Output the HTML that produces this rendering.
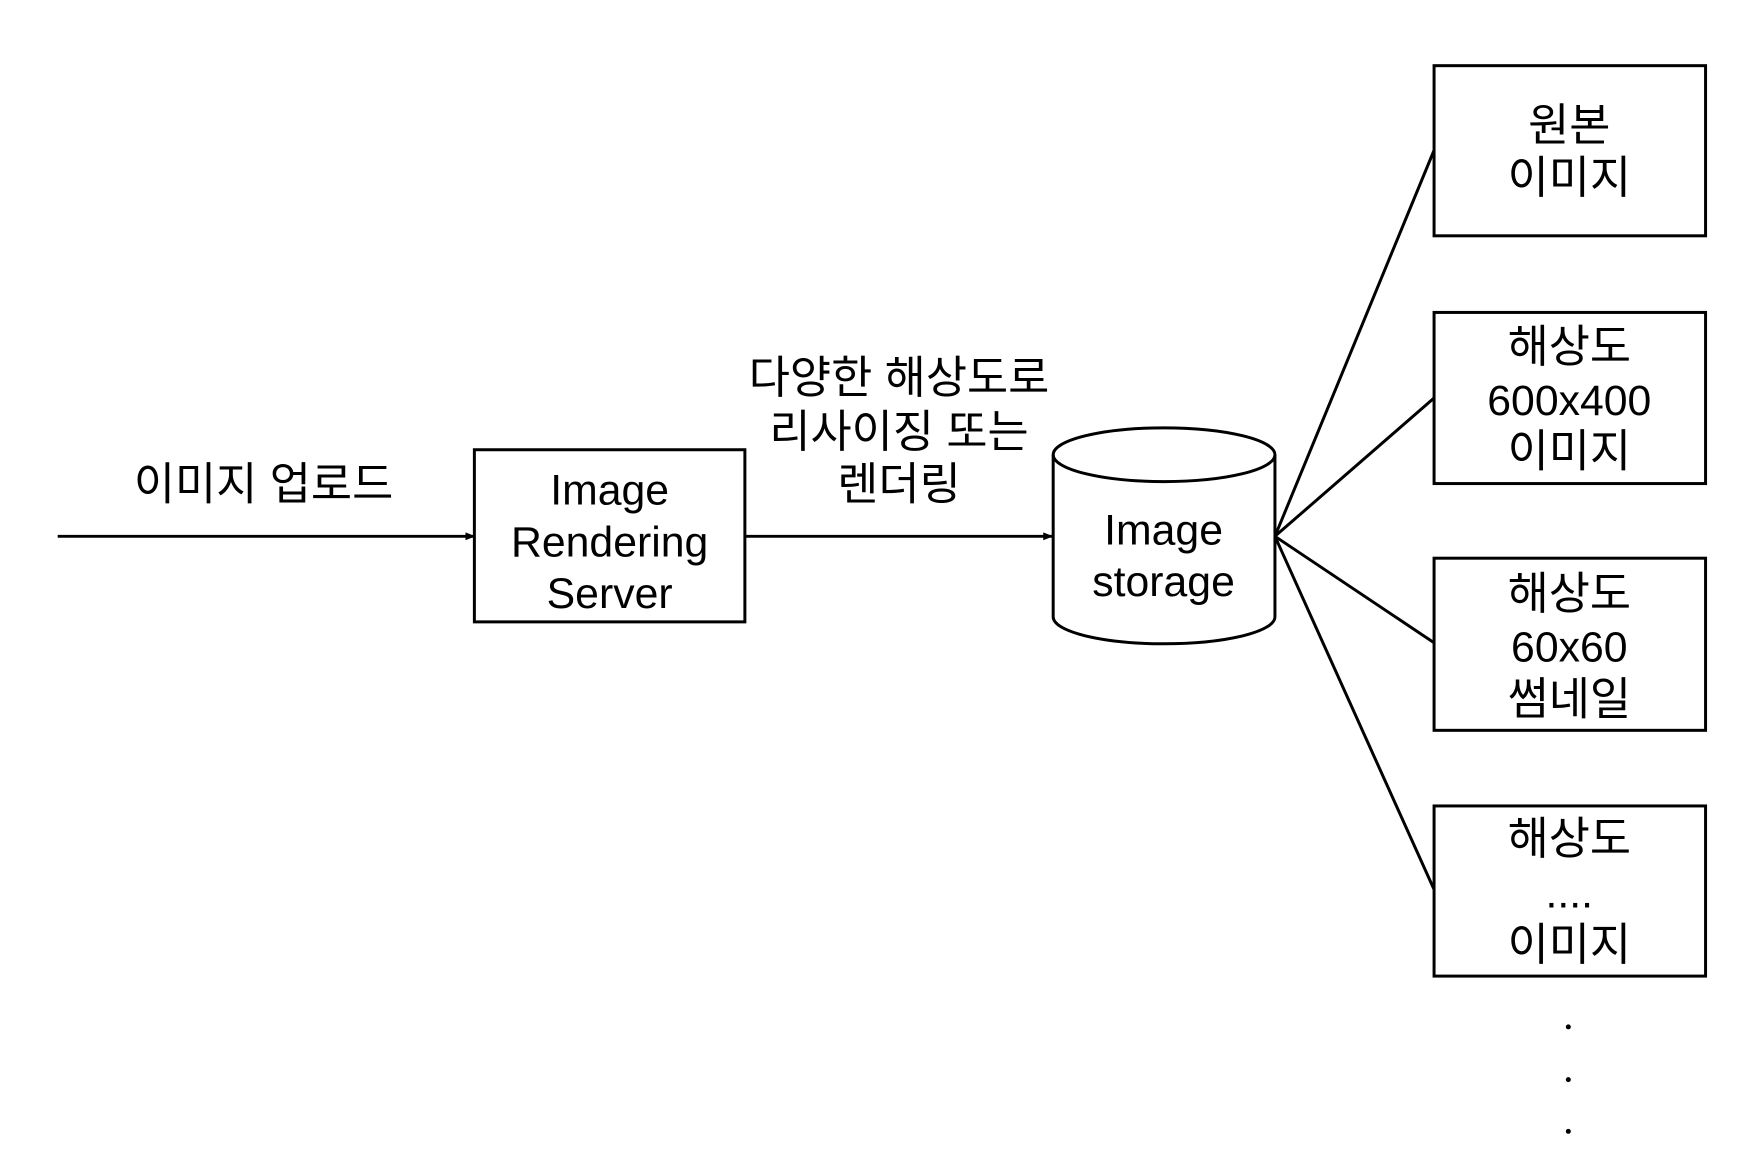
<!DOCTYPE html>
<html><head><meta charset="utf-8"><style>
html,body{margin:0;padding:0;background:#fff;}
svg{display:block}
text{font-family:"Liberation Sans","Noto Sans CJK KR",sans-serif;font-size:43px;fill:#000;text-anchor:middle;dominant-baseline:central}
text.k{font-size:45px}
</style></head><body>
<svg width="1746" height="1174" viewBox="0 0 1746 1174" xmlns="http://www.w3.org/2000/svg">
<defs><marker id="a" markerWidth="10" markerHeight="10" refX="9" refY="5" orient="auto" markerUnits="userSpaceOnUse"><path d="M0,1 L10,5 L0,9 z" fill="#000"/></marker></defs>
<g transform="scale(0.9945 0.995)">
<g stroke="#000" stroke-width="3" fill="none">
<line x1="58" y1="539" x2="477" y2="539" marker-end="url(#a)"/>
<rect x="477" y="452" width="272" height="173"/>
<line x1="749" y1="539" x2="1058" y2="539" marker-end="url(#a)"/>
<path d="M1059,457 L1059,620 A111.5,27 0 0 0 1282,620 L1282,457"/>
<ellipse cx="1170.5" cy="457" rx="111.5" ry="27"/>
<rect x="1442" y="66" width="273" height="171"/>
<rect x="1442" y="314" width="273" height="172"/>
<rect x="1442" y="561" width="273" height="173"/>
<rect x="1442" y="810" width="273" height="171"/>
<line x1="1282" y1="539" x2="1442" y2="151"/>
<line x1="1282" y1="539" x2="1442" y2="400"/>
<line x1="1282" y1="539" x2="1442" y2="646"/>
<line x1="1282" y1="539" x2="1442" y2="894"/>
</g>
<g transform="translate(0 3)">
<text class="k" x="265" y="484">이미지 업로드</text>
<text x="613" y="490">Image</text>
<text x="613" y="542">Rendering</text>
<text x="613" y="594">Server</text>
<text class="k" x="904" y="377">다양한 해상도로</text>
<text class="k" x="904" y="431">리사이징 또는</text>
<text class="k" x="904" y="484">렌더링</text>
<text x="1170" y="530">Image</text>
<text x="1170" y="582">storage</text>
<text class="k" x="1578" y="123">원본</text>
<text class="k" x="1578" y="176">이미지</text>
<text class="k" x="1578" y="346">해상도</text>
<text x="1578" y="400">600x400</text>
<text class="k" x="1578" y="451">이미지</text>
<text class="k" x="1578" y="594">해상도</text>
<text x="1578" y="648">60x60</text>
<text class="k" x="1578" y="700">썸네일</text>
<text class="k" x="1578" y="840">해상도</text>
<text x="1578" y="895">....</text>
<text class="k" x="1578" y="947">이미지</text>
</g>
<g fill="#000"><circle cx="1577" cy="1032" r="2.5"/><circle cx="1577" cy="1085" r="2.5"/><circle cx="1577" cy="1137" r="2.5"/></g>
</g>
</svg>
</body></html>
